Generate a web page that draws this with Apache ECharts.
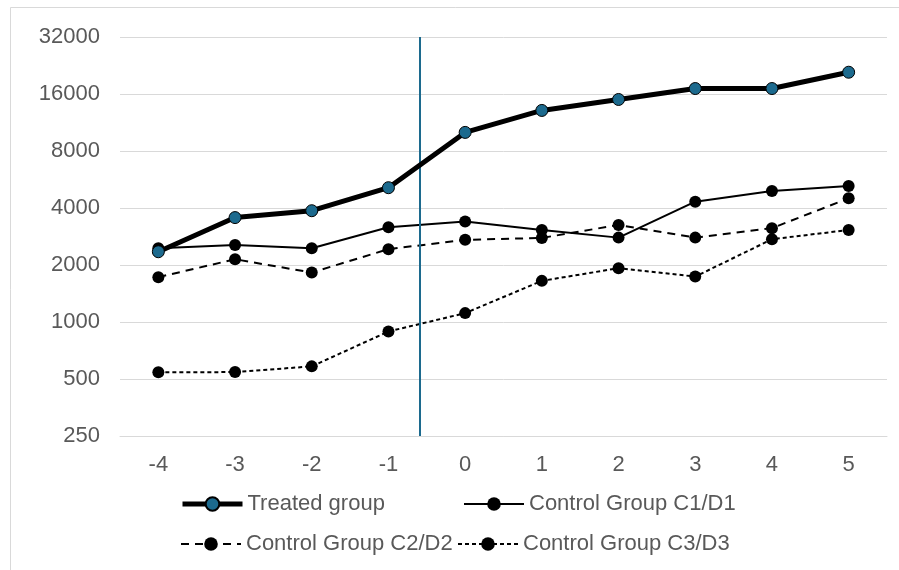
<!DOCTYPE html>
<html>
<head>
<meta charset="utf-8">
<script src="https://cdn.jsdelivr.net/npm/echarts@6/dist/echarts.min.js"></script>
<style>
html,body{margin:0;padding:0;background:#fff;}
#chart{width:899px;height:570px;}
</style>
</head>
<body>
<div id="chart"></div>
<script>
const categories = ['-4', '-3', '-2', '-1', '0', '1', '2', '3', '4', '5'];
const treated = [2350, 3560, 3870, 5120, 10030, 13100, 14970, 17100, 17100, 20850];
const control1 = [2450, 2550, 2450, 3165, 3390, 3060, 2790, 4320, 4920, 5220];
const control2 = [1725, 2145, 1825, 2425, 2715, 2780, 3255, 2790, 3130, 4500];
const control3 = [542, 544, 583, 891, 1114, 1649, 1924, 1737, 2735, 3063];
const yTickLabels = [250, 500, 1000, 2000, 4000, 8000, 16000, 32000];
const treatmentStart = -0.59;
const seriesNames = ['Treated group', 'Control Group C1/D1', 'Control Group C2/D2', 'Control Group C3/D3'];

const FONT = '"Liberation Sans", Arial, sans-serif';
const TXT = '#595959';
const BLUE = '#1c6a8e';

const chart = echarts.init(document.getElementById('chart'), null, {renderer: 'canvas'});

function nearestTick(v) {
  let best = yTickLabels[0];
  yTickLabels.forEach(function (t) {
    if (Math.abs(Math.log(t) - Math.log(v)) < Math.abs(Math.log(best) - Math.log(v))) best = t;
  });
  return best;
}

function legendAt(name, left, top, lw, dash) {
  return {
    data: [name], left: left, top: top, padding: 0, orient: 'horizontal',
    itemWidth: 60, itemHeight: 17,
    lineStyle: {width: lw, type: dash, color: '#000'},
    textStyle: {color: TXT, fontSize: 22, fontFamily: FONT},
    selectedMode: false
  };
}

const option = {
  animation: false,
  backgroundColor: '#fff',
  textStyle: {fontFamily: FONT},
  graphic: [{
    type: 'rect', silent: true,
    shape: {x: 10.5, y: 7.5, width: 950, height: 620},
    style: {fill: 'none', stroke: '#d9d9d9', lineWidth: 1}
  }],
  grid: {left: 120, right: 12, top: 37, bottom: 134},
  legend: [
    legendAt(seriesNames[0], 180, 493, 5, 'solid'),
    legendAt(seriesNames[1], 463, 493, 2, 'solid'),
    legendAt(seriesNames[2], 180, 533, 2, [8, 6]),
    legendAt(seriesNames[3], 457, 533, 2, [4, 3])
  ],
  xAxis: [{
    type: 'category', data: categories, boundaryGap: true,
    axisLine: {show: true, lineStyle: {color: '#d9d9d9', width: 1}},
    axisTick: {show: false},
    axisLabel: {color: TXT, fontSize: 22, fontFamily: FONT, margin: 18},
    splitLine: {show: false}
  }, {
    type: 'value', min: -4.5, max: 5.5, show: false,
    splitLine: {show: false}
  }],
  yAxis: {
    type: 'log', logBase: 2, min: yTickLabels[0], max: yTickLabels[yTickLabels.length - 1], interval: 1,
    axisLine: {show: false}, axisTick: {show: false},
    axisLabel: {color: TXT, fontSize: 22, fontFamily: FONT, margin: 20,
      formatter: function (v) { return String(nearestTick(v)); }},
    splitLine: {show: true, lineStyle: {color: '#d9d9d9', width: 1}}
  },
  series: [{
    name: seriesNames[0], type: 'line', data: treated,
    symbol: 'circle', symbolSize: 12,
    lineStyle: {color: '#000', width: 5},
    itemStyle: {color: BLUE, borderColor: '#000', borderWidth: 1},
    z: 5
  }, {
    name: seriesNames[1], type: 'line', data: control1,
    symbol: 'circle', symbolSize: 12,
    lineStyle: {color: '#000', width: 2},
    itemStyle: {color: '#000', borderColor: '#000', borderWidth: 0}
  }, {
    name: seriesNames[2], type: 'line', data: control2,
    symbol: 'circle', symbolSize: 12,
    lineStyle: {color: '#000', width: 2, type: [8, 6]},
    itemStyle: {color: '#000', borderColor: '#000', borderWidth: 0}
  }, {
    name: seriesNames[3], type: 'line', data: control3,
    symbol: 'circle', symbolSize: 12,
    lineStyle: {color: '#000', width: 2, type: [4, 3]},
    itemStyle: {color: '#000', borderColor: '#000', borderWidth: 0}
  }, {
    name: 'treatment', type: 'line', xAxisIndex: 1, yAxisIndex: 0, data: [],
    silent: true,
    markLine: {
      silent: true, symbol: ['none', 'none'],
      label: {show: false},
      lineStyle: {color: BLUE, width: 2, type: 'solid'},
      data: [{xAxis: treatmentStart}]
    }
  }]
};
chart.setOption(option);
</script>
</body>
</html>
